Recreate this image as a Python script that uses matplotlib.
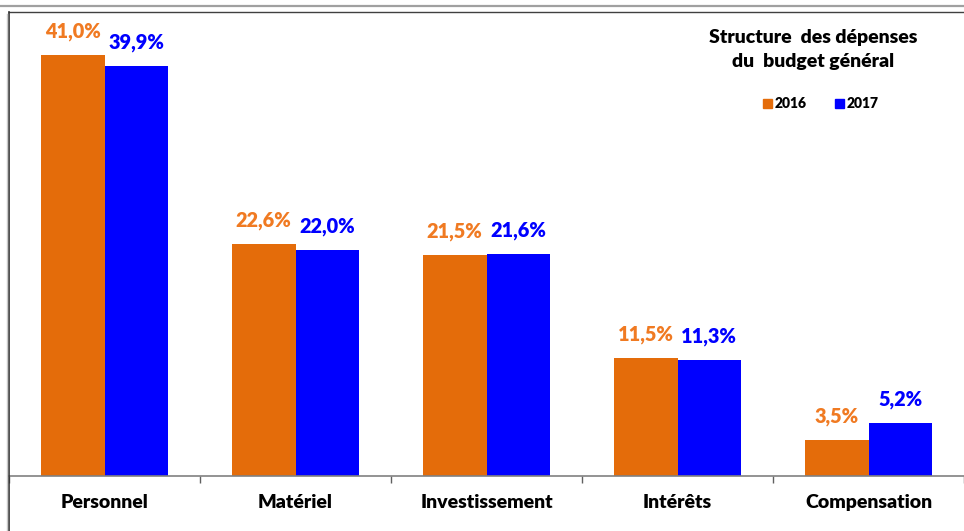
import matplotlib
matplotlib.use('Agg')
import matplotlib.pyplot as plt
from matplotlib.lines import Line2D
from matplotlib.patches import Rectangle
import numpy as np

categories = ['Personnel', 'Matériel', 'Investissement', 'Intérêts', 'Compensation']
values_2016 = [41.0, 22.6, 21.5, 11.5, 3.5]
values_2017 = [39.9, 22.0, 21.6, 11.3, 5.2]
series_names = ['2016', '2017']
title_lines = ['Structure  des dépenses', 'du  budget général']

c2016 = '#E46C0A'
c2016_txt = '#F07A22'
c2017 = '#0000FF'
font = ['Lato', 'DejaVu Sans']

W, H = 964, 531
fig = plt.figure(figsize=(W / 100, H / 100), dpi=100)

# axes box in pixel coordinates
x0, x1 = 9, 964
y_top, y_base = 12, 476
ax = fig.add_axes([x0 / W, (H - y_base) / H, (x1 - x0) / W, (y_base - y_top) / H])

x = np.arange(len(categories))
bw = 0.333
ax.bar(x - bw / 2, values_2016, bw, color=c2016, zorder=2)
ax.bar(x + bw / 2, values_2017, bw, color=c2017, zorder=2)

ax.set_xlim(-0.5, len(categories) - 0.5)
ax.set_ylim(0, 45.2)

for xi, v in zip(x, values_2016):
    ax.annotate(f'{v:.1f}%'.replace('.', ','), (xi - bw / 2, v), xytext=(0, 17),
                textcoords='offset points', ha='center', va='center',
                fontsize=14.3, fontweight='heavy', color=c2016_txt, family=font)
for xi, v in zip(x, values_2017):
    ax.annotate(f'{v:.1f}%'.replace('.', ','), (xi + bw / 2, v), xytext=(0, 17),
                textcoords='offset points', ha='center', va='center',
                fontsize=14.3, fontweight='heavy', color=c2017, family=font)

# spines and ticks
for s in ['top', 'right', 'left']:
    ax.spines[s].set_visible(False)
ax.spines['bottom'].set_color('#808080')
ax.spines['bottom'].set_linewidth(1.2)
ax.set_yticks([])
ax.set_xticks(x)
ax.set_xticklabels(categories, fontsize=14, fontweight='heavy', family=font)
ax.tick_params(axis='x', length=0, pad=13)
ax.set_xticks(np.arange(-0.5, len(categories)), minor=True)
ax.tick_params(axis='x', which='minor', length=5, width=1, color='#606060')

# frame lines in pixels
def px_line(xa, ya, xb, yb, color, lw):
    fig.add_artist(Line2D([xa / W, xb / W], [1 - ya / H, 1 - yb / H],
                          transform=fig.transFigure, color=color, lw=lw))

px_line(0, 5.5, W, 5.5, '#A0A0A0', 1.6)
px_line(x0, y_top, W, y_top, '#404040', 1.0)
px_line(x0, y_top, x0, H, '#303030', 1.2)
px_line(7, y_top + 2, 7, H, '#C8C8C8', 1.0)

# title and legend
fig.text(813 / W, 1 - 38 / H, title_lines[0], ha='center', va='center',
         fontsize=14, fontweight='heavy', family=font)
fig.text(813 / W, 1 - 62 / H, title_lines[1], ha='center', va='center',
         fontsize=14, fontweight='heavy', family=font)

for (sx, tx), name, col in zip([(763, 775), (835, 847)], series_names, [c2016, c2017]):
    fig.add_artist(Rectangle((sx / W, 1 - 108 / H), 9 / W, 9 / H,
                             transform=fig.transFigure, color=col))
    fig.text(tx / W, 1 - 103.5 / H, name, ha='left', va='center',
             fontsize=10, fontweight='heavy', family=font)

fig.savefig('out.png', dpi=100)
